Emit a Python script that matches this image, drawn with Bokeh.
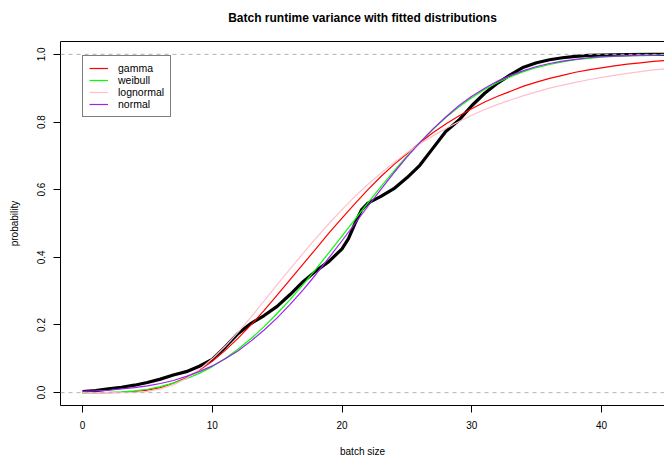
from bokeh.plotting import figure
from bokeh.models import Range1d, FixedTicker, LinearAxis, Legend, LegendItem, Span
from bokeh.embed import file_html
from bokeh.resources import INLINE

# ---- data ----
title_text = "Batch runtime variance with fitted distributions"
x_label = "batch size"
y_label = "probability"

x_ticks = [0, 10, 20, 30, 40]
y_ticks = [0.0, 0.2, 0.4, 0.6, 0.8, 1.0]
y_tick_labels = ["0.0", "0.2", "0.4", "0.6", "0.8", "1.0"]
ref_levels = [0.0, 1.0]

# empirical CDF (thick black)
ecdf_x = [0, 1, 2, 3, 4, 5, 6, 7, 8, 9, 10, 11, 12, 12.5, 13, 14, 15, 16, 17, 18, 19,
          20, 20.5, 21, 21.5, 22, 23, 24, 25, 26, 27, 28, 29, 30, 31, 32, 33, 34, 35,
          36, 37, 38, 39, 40, 42, 44, 46]
ecdf_y = [0.003, 0.006, 0.011, 0.016, 0.022, 0.030, 0.040, 0.052, 0.062, 0.078, 0.098,
          0.135, 0.175, 0.190, 0.205, 0.228, 0.255, 0.290, 0.328, 0.360, 0.388,
          0.425, 0.455, 0.500, 0.540, 0.560, 0.580, 0.603, 0.635, 0.672, 0.722, 0.772,
          0.805, 0.848, 0.885, 0.915, 0.940, 0.962, 0.975, 0.984, 0.990, 0.994, 0.997,
          0.998, 0.999, 1.000, 1.000]

# fitted CDFs, read at a 1-unit grid
fit_x = list(range(0, 47))
gamma_y = [0.0, 0.0, 0.0001, 0.0009, 0.003, 0.0075, 0.015, 0.028, 0.044, 0.066,
           0.093, 0.125, 0.161, 0.201, 0.243, 0.288, 0.334, 0.380, 0.426, 0.472,
           0.516, 0.559, 0.600, 0.639, 0.674, 0.706, 0.739, 0.768, 0.794, 0.818,
           0.839, 0.859, 0.876, 0.891, 0.906, 0.918, 0.929, 0.938, 0.947, 0.954,
           0.960, 0.966, 0.971, 0.975, 0.979, 0.982, 0.984]
weibull_y = [0.0, 0.0001, 0.0007, 0.0023, 0.005, 0.010, 0.018, 0.028, 0.041, 0.057,
             0.077, 0.101, 0.129, 0.160, 0.195, 0.234, 0.275, 0.319, 0.366, 0.414,
             0.463, 0.512, 0.561, 0.609, 0.655, 0.699, 0.740, 0.778, 0.813, 0.844,
             0.872, 0.896, 0.917, 0.934, 0.949, 0.961, 0.970, 0.978, 0.984, 0.988,
             0.992, 0.994, 0.996, 0.997, 0.998, 0.999, 0.999]
lognormal_y = [0.0, 0.0, 0.0, 0.0001, 0.001, 0.004, 0.011, 0.023, 0.042, 0.068,
               0.100, 0.137, 0.179, 0.224, 0.271, 0.319, 0.366, 0.412, 0.457, 0.500,
               0.541, 0.580, 0.616, 0.649, 0.680, 0.709, 0.735, 0.759, 0.781, 0.801,
               0.820, 0.837, 0.852, 0.865, 0.878, 0.889, 0.900, 0.909, 0.917, 0.925,
               0.932, 0.938, 0.944, 0.949, 0.954, 0.958, 0.962]
normal_y = [0.004, 0.005, 0.007, 0.011, 0.015, 0.020, 0.027, 0.036, 0.048, 0.062,
            0.079, 0.100, 0.124, 0.153, 0.185, 0.221, 0.261, 0.304, 0.350, 0.399,
            0.449, 0.500, 0.551, 0.601, 0.650, 0.696, 0.739, 0.779, 0.815, 0.848,
            0.876, 0.900, 0.921, 0.938, 0.952, 0.964, 0.973, 0.980, 0.985, 0.990,
            0.993, 0.995, 0.996, 0.998, 0.998, 0.999, 0.999]

series_names = ["gamma", "weibull", "lognormal", "normal"]
series_values = [gamma_y, weibull_y, lognormal_y, normal_y]
series_colors = ["#FF0000", "#00FF00", "#FFC0CB", "#A020F0"]

FONT = "Liberation Sans"

p = figure(width=664, height=459, output_backend="svg", toolbar_location=None,
           x_range=Range1d(-1.7, 44.86), y_range=Range1d(-0.038, 1.038),
           min_border_left=60, min_border_right=0, min_border_top=41, min_border_bottom=52,
           x_axis_label=x_label, y_axis_label=y_label)
p.grid.visible = False
p.outline_line_color = None
p.background_fill_color = "white"
p.border_fill_color = "white"

for ax in [p.xaxis[0], p.yaxis[0]]:
    ax.axis_line_color = "black"
    ax.major_tick_line_color = "black"
    ax.major_tick_out = 7
    ax.major_tick_in = 0
    ax.minor_tick_out = 0
    ax.minor_tick_in = 0
    ax.major_label_text_font = FONT
    ax.major_label_text_font_size = "10px"
    ax.major_label_text_color = "black"
    ax.axis_label_text_font = FONT
    ax.axis_label_text_font_size = "10px"
    ax.axis_label_text_font_style = "normal"
    ax.axis_label_text_color = "black"

p.xaxis[0].ticker = FixedTicker(ticks=x_ticks)
p.xaxis[0].major_label_standoff = 8
p.xaxis[0].axis_label_standoff = 14
p.yaxis[0].ticker = FixedTicker(ticks=y_ticks)
p.yaxis[0].major_label_overrides = {t: l for t, l in zip(y_ticks, y_tick_labels)}
p.yaxis[0].major_label_orientation = "vertical"
p.yaxis[0].major_label_standoff = 8
p.yaxis[0].axis_label_standoff = 15

# top frame line, carrying the chart title as its label
top_axis = LinearAxis(ticker=FixedTicker(ticks=[]), major_tick_out=0, major_tick_in=0,
                      minor_tick_out=0, minor_tick_in=0, major_label_text_font_size="0px",
                      major_label_standoff=0, axis_line_color="black",
                      axis_label=title_text, axis_label_standoff=17,
                      axis_label_text_font=FONT, axis_label_text_font_size="12px",
                      axis_label_text_font_style="bold", axis_label_text_color="black")
p.add_layout(top_axis, "above")

for lv in ref_levels:
    p.add_layout(Span(location=lv, dimension="width", line_color="#B3B3B3",
                      line_dash="4 4", line_width=1))

p.line(ecdf_x, ecdf_y, line_color="black", line_width=3.2)

items = []
for name, vals, col in zip(series_names, series_values, series_colors):
    r = p.line(fit_x, vals, line_color=col, line_width=1.2)
    items.append(LegendItem(label=name, renderers=[r]))

legend = Legend(items=items, location=(22, 288), border_line_color="black", border_line_width=1,
                background_fill_alpha=1, padding=6, spacing=0, margin=0,
                glyph_width=19, glyph_height=12, label_height=12, label_standoff=10,
                label_text_font=FONT, label_text_font_size="10.5px", label_text_color="black")
p.add_layout(legend, "center")

open("out.html", "w").write(file_html(p, INLINE))
